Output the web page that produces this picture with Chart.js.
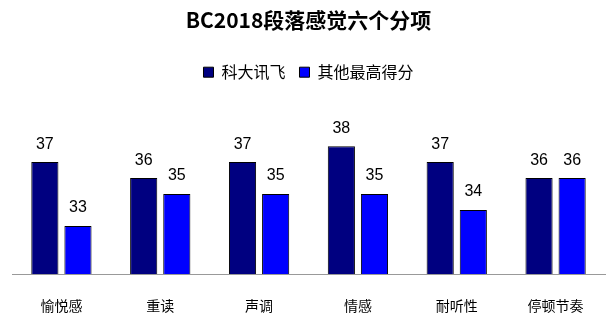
<!DOCTYPE html>
<html>
<head>
<meta charset="utf-8">
<script src="https://cdn.jsdelivr.net/npm/chart.js@4.4.0/dist/chart.umd.min.js"></script>
<style>
  html, body { margin: 0; padding: 0; background: #fff; }
  #wrap { width: 607px; height: 323px; }
</style>
</head>
<body>
<div id="wrap"><canvas id="chart" width="607" height="323"></canvas></div>
<script>
// data
var categories = ["愉悦感", "重读", "声调", "情感", "耐听性", "停顿节奏"];
var seriesNames = ["科大讯飞", "其他最高得分"];
var iflytek = [37, 36, 37, 38, 37, 36];
var otherBest = [33, 35, 35, 35, 34, 36];

var cjk = "'Noto Sans CJK SC', 'Liberation Sans', sans-serif";

// draw value above each bar
var valueLabels = {
    id: "valueLabels",
    afterDatasetsDraw: function (chart) {
        var ctx = chart.ctx;
        ctx.save();
        ctx.font = "16px 'Liberation Sans', Arial, sans-serif";
        ctx.fillStyle = "#000";
        ctx.textAlign = "center";
        ctx.textBaseline = "bottom";
        chart.data.datasets.forEach(function (ds, i) {
            chart.getDatasetMeta(i).data.forEach(function (bar, j) {
                ctx.fillText(ds.data[j], bar.x, bar.y - 10);
            });
        });
        ctx.restore();
    }
};

var chart = new Chart(document.getElementById("chart"), {
    type: "bar",
    data: {
        labels: categories,
        datasets: [{
            label: seriesNames[0],
            data: iflytek,
            backgroundColor: "#000080",
            borderColor: "#000",
            borderWidth: 1,
            borderSkipped: "bottom"
        }, {
            label: seriesNames[1],
            data: otherBest,
            backgroundColor: "#0000ff",
            borderColor: "#000",
            borderWidth: 1,
            borderSkipped: "bottom"
        }]
    },
    options: {
        responsive: false,
        animation: false,
        layout: { padding: { left: 12, right: 2, top: 7, bottom: 0 } },
        datasets: {
            bar: { categoryPercentage: 0.67, barPercentage: 0.82 }
        },
        plugins: {
            title: {
                display: true,
                text: "BC2018段落感觉六个分项",
                color: "#000",
                font: { family: cjk, size: 21, weight: "bold" },
                padding: { top: 0, bottom: 18 }
            },
            legend: {
                display: true,
                labels: {
                    color: "#000",
                    boxWidth: 10,
                    boxHeight: 10,
                    padding: 14,
                    font: { family: cjk, size: 16 }
                }
            },
            tooltip: { enabled: false }
        },
        scales: {
            x: {
                grid: { display: false, drawTicks: false },
                border: { display: true, color: "#999", width: 1 },
                ticks: {
                    color: "#000",
                    padding: 23,
                    font: { family: cjk, size: 14 }
                },
                afterFit: function (scale) { scale.height = 49; }
            },
            y: {
                display: false,
                min: 30,
                max: 41.5
            }
        }
    },
    plugins: [valueLabels]
});
</script>
</body>
</html>
